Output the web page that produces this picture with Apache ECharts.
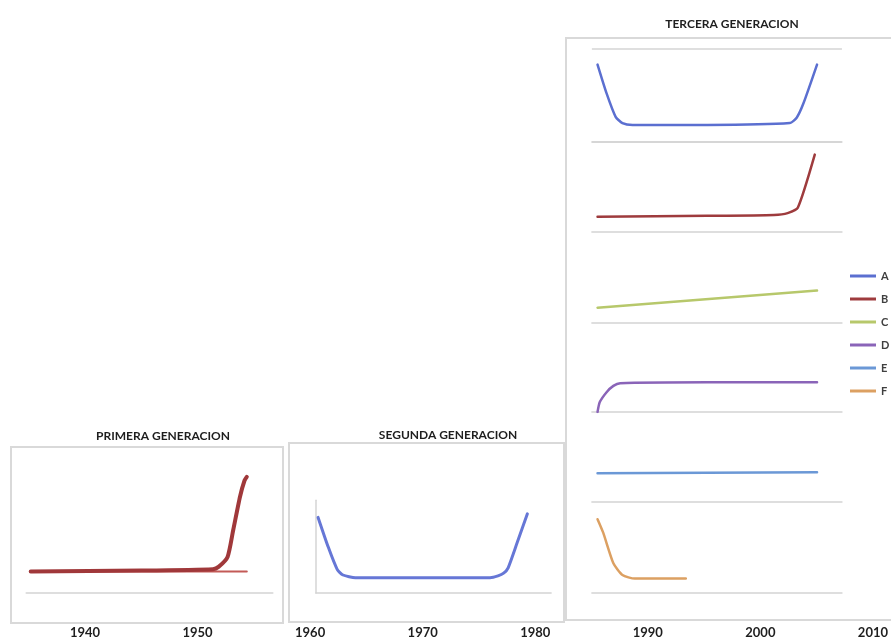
<!DOCTYPE html>
<html><head><meta charset="utf-8">
<script src="https://cdn.jsdelivr.net/npm/echarts@6/dist/echarts.min.js"></script>
<style>html,body{margin:0;padding:0;background:#fff}#c{width:891px;height:639px}</style>
</head><body><div id="c"></div>
<script>
// ---- data ----
const yearLabels = ['1940','1950','1960','1970','1980','1990','2000','2010'];
const panelTitles = ['PRIMERA GENERACION','SEGUNDA GENERACION','TERCERA GENERACION'];
const legendNames = ['A','B','C','D','E','F'];

// [year, value]
const primeraMain = [[1935.2,24],[1945,25],[1951.3,26.5],[1951.8,29],[1952.6,40],[1953.1,70],[1953.7,107],[1954.1,125],[1954.3,129]];
const primeraBase = [[1935.2,24],[1954.3,24]];
const segunda = [[1960.6,84],[1961.5,51],[1962.3,26],[1962.8,20],[1963.9,17],[1970,17],[1975.8,17],[1976.5,19],[1977.0,22],[1977.4,28],[1978.2,56],[1979.1,88]];
const serieA = [[1985.3,86],[1986.1,54],[1986.9,28],[1987.5,21],[1988.4,19],[1995,19],[2002.3,21],[2002.9,27],[2003.5,43],[2004.7,86]];
const serieB = [[1985.3,17],[1995,18],[2000.9,19],[2002.1,21],[2003.0,27],[2004.5,86]];
const serieC = [[1985.3,17],[2004.7,36]];
const serieD = [[1985.3,0],[1985.5,11],[1986.1,22],[1986.7,29],[1987.3,32],[1995,33],[2004.7,33]];
const serieE = [[1985.3,32],[2004.7,33]];
const serieF = [[1985.3,82],[1985.8,67],[1986.7,33],[1987.5,20],[1988.6,16],[1993.1,16]];

// ---- layout ----
const X0 = 85, PX_YR = (877 - 85) / 70, PX_U = 0.9;
function gridFor(minYr, maxYr, axisY, yMax) {
  return { left: X0 + (minYr - 1940) * PX_YR, width: (maxYr - minYr) * PX_YR,
           top: axisY - yMax * PX_U, height: yMax * PX_U };
}
const AX = '#d4d4d4';
const FONT = 'Lato, "Open Sans", sans-serif';

const panels = [
  { min: 1934.8, max: 1956.6, axisY: 593, yMax: 140 },
  { min: 1960.4, max: 1981.2, axisY: 593, yMax: 103, yLine: true },
  { min: 1984.8, max: 2006.9, axisY: 142, yMax: 104, topLine: true },
  { min: 1984.8, max: 2006.9, axisY: 232, yMax: 100 },
  { min: 1984.8, max: 2006.9, axisY: 323, yMax: 100 },
  { min: 1984.8, max: 2006.9, axisY: 412, yMax: 100 },
  { min: 1984.8, max: 2006.9, axisY: 502, yMax: 100 },
  { min: 1984.8, max: 2006.9, axisY: 593, yMax: 100 }
];

const grids = [{ left: 85, right: 14, top: 600, bottom: 15 }];
const xAxes = [{ type: 'category', gridIndex: 0, data: yearLabels, boundaryGap: false,
  axisLine: { show: false }, axisTick: { show: false }, splitLine: { show: false },
  axisLabel: { interval: 0, margin: 3, fontSize: 13, fontWeight: 'bold', color: '#1e1e1e', fontFamily: FONT } }];
const yAxes = [{ type: 'value', gridIndex: 0, show: false }];

panels.forEach((p, i) => {
  grids.push(gridFor(p.min, p.max, p.axisY, p.yMax));
  xAxes.push({ type: 'value', gridIndex: i + 1, min: p.min, max: p.max,
    axisLine: { show: true, onZero: false, lineStyle: { color: AX, width: 1.5 } },
    axisTick: { show: false }, axisLabel: { show: false }, splitLine: { show: false } });
  yAxes.push({ type: 'value', gridIndex: i + 1, min: 0, max: p.yMax, interval: p.yMax,
    axisLine: { show: !!p.yLine, lineStyle: { color: AX, width: 1.5 } },
    axisTick: { show: false }, axisLabel: { show: false },
    splitLine: { show: !!p.topLine, lineStyle: { color: AX, width: 1.5 } } });
});

function line(name, data, idx, color, width) {
  return { type: 'line', name: name, data: data, xAxisIndex: idx, yAxisIndex: idx,
    showSymbol: false, symbol: 'none', smooth: 0.2,
    lineStyle: { color: color, width: width, cap: 'round', join: 'round' }, itemStyle: { color: color } };
}

const series = [
  line('P1base', primeraBase, 1, '#c35a57', 2),
  line('P1', primeraMain, 1, '#a0383a', 4),
  line('S2', segunda, 2, '#6677d6', 3),
  line('A', serieA, 3, '#5b6fd0', 2.5),
  line('B', serieB, 4, '#9e3b3d', 2.5),
  line('C', serieC, 5, '#b7c86b', 2.5),
  line('D', serieD, 6, '#8a64b8', 2.5),
  line('E', serieE, 7, '#6b98d6', 2.5),
  line('F', serieF, 8, '#dca062', 2.5)
];

const titleStyle = { fontSize: 12, fontWeight: 'bold', color: '#1e1e1e', fontFamily: FONT };
const option = {
  animation: false,
  backgroundColor: '#fff',
  title: [
    { text: panelTitles[0], left: 158, top: 425, textAlign: 'center', textStyle: titleStyle },
    { text: panelTitles[1], left: 443, top: 424, textAlign: 'center', textStyle: titleStyle },
    { text: panelTitles[2], left: 727, top: 13, textAlign: 'center', textStyle: titleStyle }
  ],
  legend: { orient: 'vertical', left: 845, top: 264, icon: 'rect', itemWidth: 26, itemHeight: 3,
    itemGap: 9, data: legendNames,
    textStyle: { fontSize: 11, fontWeight: 'bold', color: '#404040', fontFamily: FONT, lineHeight: 14 } },
  graphic: [
    { type: 'rect', shape: { x: 11, y: 447, width: 272, height: 176 }, style: { fill: 'none', stroke: '#d9d9d9', lineWidth: 2 } },
    { type: 'rect', shape: { x: 289, y: 443, width: 275, height: 179 }, style: { fill: 'none', stroke: '#d9d9d9', lineWidth: 2 } },
    { type: 'rect', shape: { x: 566, y: 38, width: 340, height: 582 }, style: { fill: 'none', stroke: '#d9d9d9', lineWidth: 2 } }
  ],
  grid: grids, xAxis: xAxes, yAxis: yAxes, series: series
};
echarts.init(document.getElementById('c')).setOption(option);
</script></body></html>
